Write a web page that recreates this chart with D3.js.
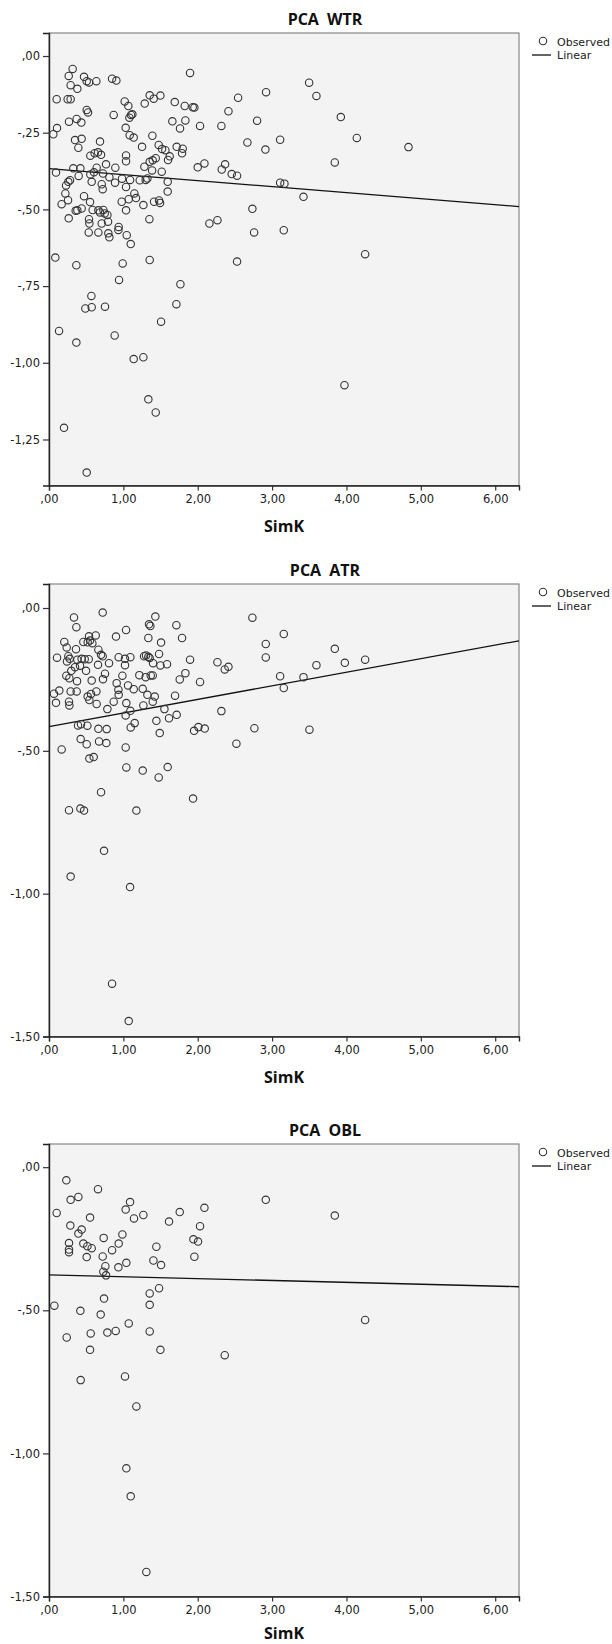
<!DOCTYPE html>
<html>
<head>
<meta charset="utf-8">
<script src="https://cdn.jsdelivr.net/npm/d3@7"></script>
<style>
  body { margin: 0; background: #fff; }
  svg { display: block; }
  text { font-family: "DejaVu Sans", sans-serif; fill: #222; }
  .title, .xlabel { font-family: "Open Sans", sans-serif; font-weight: bold; fill: #111; }
</style>
</head>
<body>
<svg id="chart" width="612" height="1644"></svg>
<script>
// --- Data ------------------------------------------------
const titles = ["PCA WTR", "PCA ATR", "PCA OBL"];

// [SimK, PCA] pairs
const wtrPoints = [
  [0.318,-0.042],[0.265,-0.065],[0.291,-0.095],[0.381,-0.107],[0.471,-0.068],[0.507,-0.082],
  [0.538,-0.086],[0.637,-0.082],[0.848,-0.074],[0.906,-0.080],[1.897,-0.055],[0.103,-0.141],
  [0.251,-0.141],[0.291,-0.141],[2.919,-0.118],[2.543,-0.136],[1.354,-0.128],[1.408,-0.139],
  [1.498,-0.129],[1.018,-0.148],[1.067,-0.163],[1.287,-0.155],[1.691,-0.150],[1.825,-0.163],
  [1.933,-0.167],[1.955,-0.168],[2.413,-0.180],[0.507,-0.176],[0.525,-0.184],[0.870,-0.192],
  [1.103,-0.192],[1.081,-0.201],[1.121,-0.190],[0.269,-0.214],[0.372,-0.205],[0.435,-0.217],
  [0.108,-0.235],[0.058,-0.255],[1.659,-0.213],[1.834,-0.210],[1.762,-0.236],[2.031,-0.228],
  [2.318,-0.228],[2.798,-0.211],[1.031,-0.234],[1.085,-0.258],[1.139,-0.266],[1.390,-0.260],
  [0.350,-0.274],[0.439,-0.270],[0.395,-0.299],[0.686,-0.279],[0.556,-0.325],[0.614,-0.317],
  [0.659,-0.314],[0.700,-0.322],[1.251,-0.296],[1.475,-0.290],[1.520,-0.303],[1.565,-0.307],
  [1.717,-0.296],[1.798,-0.302],[1.789,-0.317],[1.036,-0.324],[1.036,-0.343],[2.668,-0.282],
  [2.910,-0.305],[3.108,-0.273],[0.094,-0.380],[0.327,-0.366],[0.422,-0.366],[0.399,-0.391],
  [0.556,-0.386],[0.605,-0.379],[0.641,-0.364],[0.767,-0.353],[0.892,-0.364],[0.726,-0.383],
  [0.812,-0.395],[0.982,-0.400],[1.090,-0.404],[1.220,-0.405],[1.300,-0.404],[1.323,-0.399],
  [1.283,-0.361],[1.354,-0.345],[1.395,-0.340],[1.435,-0.333],[1.386,-0.373],[1.516,-0.377],
  [1.623,-0.327],[1.601,-0.339],[2.000,-0.363],[2.090,-0.350],[2.323,-0.370],[2.368,-0.353],
  [2.457,-0.385],[2.529,-0.390],[3.108,-0.413],[3.166,-0.416],[3.422,-0.459],[0.229,-0.422],
  [0.260,-0.410],[0.283,-0.405],[0.220,-0.448],[0.170,-0.483],[0.256,-0.470],[0.471,-0.457],
  [0.552,-0.476],[0.709,-0.418],[0.722,-0.434],[0.574,-0.410],[0.888,-0.413],[1.036,-0.427],
  [1.148,-0.448],[1.170,-0.463],[1.269,-0.486],[1.413,-0.475],[1.480,-0.471],[1.493,-0.479],
  [1.596,-0.410],[1.596,-0.442],[0.978,-0.475],[1.072,-0.467],[0.439,-0.497],[0.381,-0.503],
  [0.359,-0.504],[0.265,-0.529],[0.538,-0.532],[0.543,-0.546],[0.587,-0.502],[0.664,-0.503],
  [0.686,-0.510],[0.731,-0.502],[0.749,-0.513],[0.785,-0.518],[0.709,-0.546],[0.794,-0.540],
  [0.937,-0.557],[0.933,-0.567],[0.534,-0.575],[0.664,-0.575],[0.798,-0.578],[0.812,-0.591],
  [1.045,-0.584],[1.099,-0.613],[1.036,-0.503],[1.350,-0.532],[2.157,-0.546],[2.265,-0.535],
  [2.735,-0.498],[2.758,-0.575],[3.157,-0.568],[0.085,-0.657],[0.368,-0.682],[0.991,-0.676],
  [1.354,-0.665],[2.529,-0.670],[3.498,-0.087],[3.596,-0.130],[3.924,-0.199],[4.139,-0.267],
  [4.834,-0.297],[3.843,-0.347],[4.251,-0.646],[3.973,-1.073],[0.942,-0.730],[1.767,-0.744],
  [0.570,-0.782],[0.489,-0.823],[0.574,-0.819],[0.753,-0.817],[1.713,-0.809],[1.507,-0.866],
  [0.135,-0.896],[0.368,-0.934],[0.883,-0.911],[1.139,-0.988],[1.269,-0.982],[1.336,-1.119],
  [1.435,-1.162],[0.202,-1.212],[0.507,-1.358]
];

const atrPoints = [
  [0.722,-0.016],[0.336,-0.033],[0.368,-0.067],[1.430,-0.030],[1.345,-0.057],[1.363,-0.063],
  [1.713,-0.060],[1.036,-0.077],[1.336,-0.105],[1.507,-0.121],[1.789,-0.105],[0.901,-0.100],
  [2.735,-0.034],[3.157,-0.091],[2.915,-0.126],[2.915,-0.173],[0.462,-0.119],[0.520,-0.120],
  [0.552,-0.114],[0.583,-0.123],[0.538,-0.099],[0.628,-0.096],[0.206,-0.119],[0.238,-0.138],
  [0.363,-0.144],[0.108,-0.174],[0.260,-0.169],[0.278,-0.178],[0.242,-0.187],[0.381,-0.181],
  [0.439,-0.178],[0.480,-0.179],[0.534,-0.179],[0.417,-0.202],[0.350,-0.207],[0.498,-0.220],
  [0.300,-0.220],[0.664,-0.146],[0.700,-0.164],[0.722,-0.169],[0.659,-0.199],[0.807,-0.193],
  [0.753,-0.230],[0.726,-0.249],[0.937,-0.172],[1.022,-0.178],[1.094,-0.172],[1.022,-0.200],
  [0.987,-0.237],[1.063,-0.271],[1.139,-0.284],[1.278,-0.169],[1.305,-0.166],[1.336,-0.171],
  [1.354,-0.175],[1.399,-0.193],[1.480,-0.161],[1.498,-0.201],[1.587,-0.197],[1.897,-0.181],
  [1.834,-0.228],[1.758,-0.250],[2.031,-0.259],[1.215,-0.235],[1.300,-0.242],[1.368,-0.236],
  [1.395,-0.236],[1.260,-0.283],[1.323,-0.304],[1.422,-0.310],[1.395,-0.328],[2.265,-0.190],
  [2.363,-0.215],[2.413,-0.206],[3.108,-0.239],[3.157,-0.280],[3.422,-0.242],[3.596,-0.200],
  [3.843,-0.143],[3.978,-0.192],[4.251,-0.181],[3.502,-0.426],[0.233,-0.237],[0.274,-0.246],
  [0.377,-0.256],[0.574,-0.254],[0.637,-0.292],[0.067,-0.300],[0.094,-0.332],[0.139,-0.289],
  [0.269,-0.328],[0.274,-0.341],[0.291,-0.292],[0.372,-0.292],[0.520,-0.310],[0.543,-0.322],
  [0.565,-0.301],[0.641,-0.336],[0.785,-0.354],[0.870,-0.328],[0.910,-0.263],[0.933,-0.286],
  [0.937,-0.304],[1.040,-0.333],[1.094,-0.360],[1.031,-0.376],[1.152,-0.403],[1.099,-0.418],
  [1.269,-0.341],[1.552,-0.354],[1.614,-0.386],[1.695,-0.307],[1.717,-0.374],[1.444,-0.395],
  [1.489,-0.438],[2.318,-0.361],[1.951,-0.430],[2.009,-0.417],[2.094,-0.422],[2.762,-0.421],
  [2.520,-0.475],[0.390,-0.411],[0.430,-0.407],[0.516,-0.412],[0.426,-0.459],[0.507,-0.477],
  [0.664,-0.423],[0.673,-0.467],[0.776,-0.424],[0.771,-0.473],[0.170,-0.495],[1.031,-0.488],
  [0.543,-0.527],[0.601,-0.522],[1.040,-0.558],[1.260,-0.569],[1.475,-0.593],[1.596,-0.557],
  [0.700,-0.645],[1.937,-0.667],[0.269,-0.708],[0.422,-0.702],[0.471,-0.709],[1.175,-0.709],
  [0.740,-0.850],[0.291,-0.940],[1.090,-0.977],[0.848,-1.315],[1.072,-1.446]
];

const oblPoints = [
  [0.233,-0.046],[0.659,-0.077],[0.291,-0.114],[0.395,-0.104],[0.103,-0.160],[0.552,-0.176],
  [1.090,-0.122],[1.031,-0.148],[1.143,-0.179],[1.269,-0.167],[1.614,-0.190],[1.758,-0.157],
  [2.090,-0.142],[2.031,-0.206],[2.915,-0.114],[3.843,-0.169],[0.287,-0.204],[0.439,-0.218],
  [0.395,-0.232],[0.269,-0.265],[0.269,-0.288],[0.269,-0.297],[0.462,-0.267],[0.516,-0.276],
  [0.574,-0.283],[0.507,-0.314],[0.735,-0.247],[0.722,-0.312],[0.987,-0.235],[0.937,-0.267],
  [0.848,-0.290],[0.758,-0.346],[0.933,-0.350],[1.040,-0.334],[1.444,-0.278],[1.404,-0.326],
  [1.507,-0.342],[1.942,-0.252],[2.004,-0.260],[1.955,-0.313],[0.731,-0.365],[0.767,-0.378],
  [1.354,-0.441],[1.480,-0.423],[0.740,-0.459],[1.354,-0.481],[0.072,-0.484],[0.422,-0.502],
  [0.695,-0.515],[1.072,-0.546],[0.785,-0.578],[0.897,-0.572],[1.354,-0.574],[0.238,-0.595],
  [0.561,-0.581],[0.552,-0.638],[1.498,-0.638],[2.363,-0.657],[4.251,-0.534],[0.426,-0.744],
  [1.022,-0.731],[1.175,-0.836],[1.040,-1.052],[1.099,-1.150],[1.309,-1.414]
];

// Linear fit lines: PCA = intercept + slope * SimK
const fitIntercepts = [-0.367, -0.415, -0.376];
const fitSlopes = [-0.0196, 0.0475, -0.0066];

const xTicks = [0, 1, 2, 3, 4, 5, 6];
const yTicksWTR = [0, -0.25, -0.5, -0.75, -1, -1.25];
const yTicksOther = [0, -0.5, -1, -1.5];
const xDomain = [0, 6.32];
const yDomains = [[-1.40, 0.075], [-1.5, 0.084], [-1.5, 0.081]];

// --- Layout ----------------------------------------------
const frameLeft = 49, frameW = 470, frameH = 452.5;
const frameTops = [33, 584, 1144];
// last panel sits right at the page bottom, so its axis title is pulled up a bit
const xLabelOffsets = [46.5, 46.5, 42];

// SPSS style numbers: ",00", "-,25", "1,00"
function fmt(v) {
  let s = Math.abs(v).toFixed(2).replace(".", ",");
  if (s.startsWith("0")) s = s.slice(1);
  return (v < 0 ? "-" : "") + s;
}

const svg = d3.select("#chart");

const x = d3.scaleLinear().domain(xDomain).range([0, frameW]);

const panels = [
  {title: titles[0], points: wtrPoints, yTicks: yTicksWTR},
  {title: titles[1], points: atrPoints, yTicks: yTicksOther},
  {title: titles[2], points: oblPoints, yTicks: yTicksOther}
];

panels.forEach((p, i) => {
  const y = d3.scaleLinear().domain(yDomains[i]).range([frameH, 0]);

  const g = svg.append("g")
    .attr("transform", "translate(" + frameLeft + "," + frameTops[i] + ")");

  // plot background + frame
  g.append("rect")
    .attr("width", frameW)
    .attr("height", frameH)
    .attr("fill", "#f3f3f3")
    .attr("stroke", "#707070")
    .attr("stroke-width", 1);

  // axes
  const xAxis = g.append("g")
    .attr("transform", "translate(0," + frameH + ")")
    .call(d3.axisBottom(x).tickValues(xTicks).tickSize(5).tickPadding(4).tickFormat(fmt));

  const yAxis = g.append("g")
    .call(d3.axisLeft(y).tickValues(p.yTicks).tickSize(6).tickPadding(3).tickFormat(fmt));

  [xAxis, yAxis].forEach(a => {
    a.attr("font-family", null).attr("font-size", null);
    a.select(".domain").attr("stroke", "#222").attr("stroke-width", 1.4);
    a.selectAll(".tick line").attr("stroke", "#333").attr("stroke-width", 1.2);
    a.selectAll(".tick text").style("font-size", "11.5px").attr("fill", "#333");
  });

  // fit line
  const line = d3.line()
    .x(d => x(d))
    .y(d => y(fitIntercepts[i] + fitSlopes[i] * d));
  g.append("path")
    .datum(xDomain)
    .attr("d", line)
    .attr("fill", "none")
    .attr("stroke", "#111")
    .attr("stroke-width", 1.3);

  // observed points
  g.selectAll("circle.obs")
    .data(p.points)
    .enter()
    .append("circle")
    .attr("class", "obs")
    .attr("cx", d => x(d[0]))
    .attr("cy", d => y(d[1]))
    .attr("r", 3.7)
    .attr("fill", "none")
    .attr("stroke", "#333")
    .attr("stroke-width", 1.1);

  // title
  g.append("text")
    .attr("class", "title")
    .attr("x", 276)
    .attr("y", -8)
    .attr("text-anchor", "middle")
    .style("font-size", "16px")
    .style("word-spacing", "4px")
    .text(p.title);

  // x label
  g.append("text")
    .attr("class", "xlabel")
    .attr("x", frameW / 2)
    .attr("y", frameH + xLabelOffsets[i])
    .attr("text-anchor", "middle")
    .style("font-size", "16px")
    .text("SimK");

  // legend
  const lg = g.append("g").attr("transform", "translate(" + (frameW + 13) + ",0)");
  lg.append("circle")
    .attr("cx", 11).attr("cy", 8).attr("r", 3.7)
    .attr("fill", "none").attr("stroke", "#333").attr("stroke-width", 1.1);
  lg.append("text").attr("x", 25).attr("y", 12.5)
    .style("font-size", "11px").text("Observed");
  lg.append("line")
    .attr("x1", 0).attr("x2", 19).attr("y1", 22).attr("y2", 22)
    .attr("stroke", "#111").attr("stroke-width", 1.3);
  lg.append("text").attr("x", 25).attr("y", 26.3)
    .style("font-size", "11px").text("Linear");
});
</script>
</body>
</html>
